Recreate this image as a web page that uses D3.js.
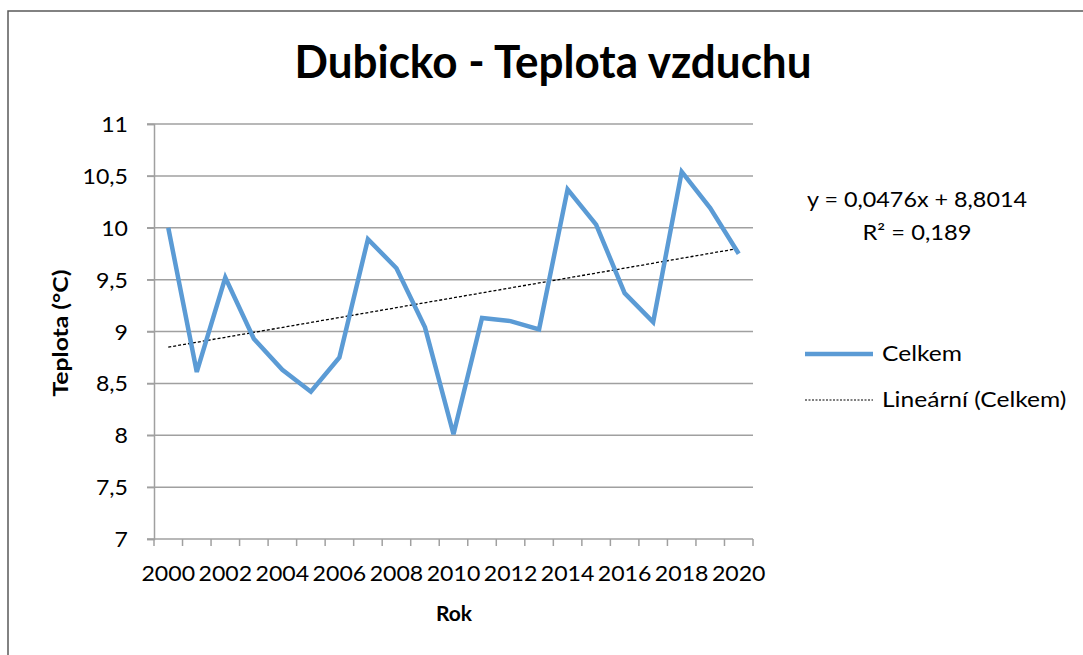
<!DOCTYPE html>
<html>
<head>
<meta charset="utf-8">
<script src="https://cdn.jsdelivr.net/npm/d3@7"></script>
<style>
  body { margin: 0; background: #fff; }
  text { font-family: Lato, "Open Sans", sans-serif; fill: #000; }
</style>
</head>
<body>
<script>
// data
var years = d3.range(2000, 2021);
var celkem = [10.0, 8.61, 9.52, 8.93, 8.63, 8.42, 8.75, 9.89, 9.61, 9.04, 8.01,
              9.13, 9.10, 9.02, 10.37, 10.03, 9.37, 9.09, 10.54, 10.19, 9.75];
var yTicks = [7, 7.5, 8, 8.5, 9, 9.5, 10, 10.5, 11];
var xLabels = [2000, 2002, 2004, 2006, 2008, 2010, 2012, 2014, 2016, 2018, 2020];
var trendSlope = 0.0476, trendIntercept = 8.8014;
var legendNames = ["Celkem", "Lineární (Celkem)"];

var width = 1083, height = 655;
var margin = {top: 124, right: 330, bottom: 116, left: 154};
var blue = "#5b9bd5";

var svg = d3.select("body").append("svg")
    .attr("width", width)
    .attr("height", height);

// widen text a bit, the original font runs wider than Lato
function stretch(sel, k) {
  sel.each(function() {
    var w = this.getComputedTextLength();
    d3.select(this).attr("textLength", w * k).attr("lengthAdjust", "spacingAndGlyphs");
  });
}

// chart frame (runs off right and bottom)
svg.append("path")
    .attr("d", "M8,700 L8,11 L1100,11")
    .attr("fill", "none")
    .attr("stroke", "#595959")
    .attr("stroke-width", 1.5);

var x = d3.scaleBand()
    .domain(years)
    .range([margin.left, width - margin.right]);
var y = d3.scaleLinear()
    .domain([7, 11])
    .range([height - margin.bottom, margin.top]);

var fmt = function(d) { return String(d).replace(".", ","); };

// gridlines
svg.append("g")
  .selectAll("line")
  .data(yTicks.slice(1))
  .enter().append("line")
    .attr("x1", margin.left - 7)
    .attr("x2", x.range()[1])
    .attr("y1", function(d) { return y(d); })
    .attr("y2", function(d) { return y(d); })
    .attr("stroke", "#a0a0a0")
    .attr("stroke-width", 1.5);

// y axis
var yAxis = svg.append("g")
    .attr("transform", "translate(" + margin.left + ",0)")
    .call(d3.axisLeft(y).tickValues(yTicks).tickSize(7).tickPadding(19).tickFormat(fmt));
yAxis.select(".domain").attr("stroke", "#a0a0a0").attr("stroke-width", 1.5);
yAxis.selectAll(".tick line").attr("stroke", "#a0a0a0").attr("stroke-width", 1.5);
yAxis.selectAll("text").style("font-size", "21px").attr("dy", "0.36em");
stretch(yAxis.selectAll("text"), 1.1);

// x axis: ticks at category boundaries
var xb = svg.append("g");
xb.append("line")
    .attr("x1", margin.left - 7).attr("x2", x.range()[1])
    .attr("y1", y(7)).attr("y2", y(7))
    .attr("stroke", "#a0a0a0").attr("stroke-width", 1.5);
xb.selectAll(".xt")
  .data(years.concat([2021]))
  .enter().append("line")
    .attr("class", "xt")
    .attr("x1", function(d) { return d === 2021 ? x.range()[1] : x(d); })
    .attr("x2", function(d) { return d === 2021 ? x.range()[1] : x(d); })
    .attr("y1", y(7)).attr("y2", y(7) + 7)
    .attr("stroke", "#a0a0a0").attr("stroke-width", 1.5);
var xl = xb.selectAll(".xl")
  .data(xLabels)
  .enter().append("text")
    .attr("class", "xl")
    .attr("x", function(d) { return x(d) + x.bandwidth() / 2; })
    .attr("y", 581)
    .attr("text-anchor", "middle")
    .style("font-size", "21px")
    .text(function(d) { return d; });
stretch(xl, 1.1);

// trend line
var xc = function(d) { return x(d) + x.bandwidth() / 2; };
svg.append("line")
    .attr("x1", xc(years[0]))
    .attr("y1", y(trendIntercept + trendSlope * 1))
    .attr("x2", xc(years[years.length - 1]))
    .attr("y2", y(trendIntercept + trendSlope * years.length))
    .attr("stroke", "#000")
    .attr("stroke-width", 1.3)
    .attr("stroke-dasharray", "3,2");

// data line
var line = d3.line()
    .x(function(d, i) { return xc(years[i]); })
    .y(function(d) { return y(d); });
svg.append("path")
    .datum(celkem)
    .attr("d", line)
    .attr("fill", "none")
    .attr("stroke", blue)
    .attr("stroke-width", 4.5)
    .attr("stroke-linejoin", "miter");

// titles
svg.append("text")
    .attr("x", 553).attr("y", 78)
    .attr("text-anchor", "middle")
    .style("font-size", "46px").style("font-weight", "bold")
    .attr("textLength", 517).attr("lengthAdjust", "spacingAndGlyphs")
    .text("Dubicko - Teplota vzduchu");

svg.append("text")
    .attr("x", 454).attr("y", 621)
    .attr("text-anchor", "middle")
    .style("font-size", "21px").style("font-weight", "bold")
    .text("Rok");

svg.append("text")
    .attr("transform", "translate(68,333) rotate(-90)")
    .attr("text-anchor", "middle")
    .style("font-size", "21px").style("font-weight", "bold")
    .attr("textLength", 127).attr("lengthAdjust", "spacingAndGlyphs")
    .text("Teplota (°C)");

// trend equation
svg.append("text")
    .attr("x", 917).attr("y", 207)
    .attr("text-anchor", "middle")
    .style("font-size", "21px")
    .attr("textLength", 220).attr("lengthAdjust", "spacingAndGlyphs")
    .text("y = " + fmt(trendSlope) + "x + " + fmt(trendIntercept));
svg.append("text")
    .attr("x", 917).attr("y", 240)
    .attr("text-anchor", "middle")
    .style("font-size", "21px")
    .attr("textLength", 109).attr("lengthAdjust", "spacingAndGlyphs")
    .text("R² = 0,189");

// legend
var lg = svg.append("g").selectAll("g")
    .data(legendNames)
  .enter().append("g")
    .attr("transform", function(d, i) { return "translate(805," + (354 + i * 46) + ")"; });
lg.append("line")
    .attr("x1", 0).attr("x2", 68)
    .attr("stroke", function(d, i) { return i === 0 ? blue : "#000"; })
    .attr("stroke-width", function(d, i) { return i === 0 ? 4.5 : 1.1; })
    .attr("stroke-dasharray", function(d, i) { return i === 0 ? null : "2,1.5"; });
var lt = lg.append("text")
    .attr("x", 77).attr("y", 7)
    .style("font-size", "21px")
    .text(function(d) { return d; });
stretch(lt, 1.17);
</script>
</body>
</html>
